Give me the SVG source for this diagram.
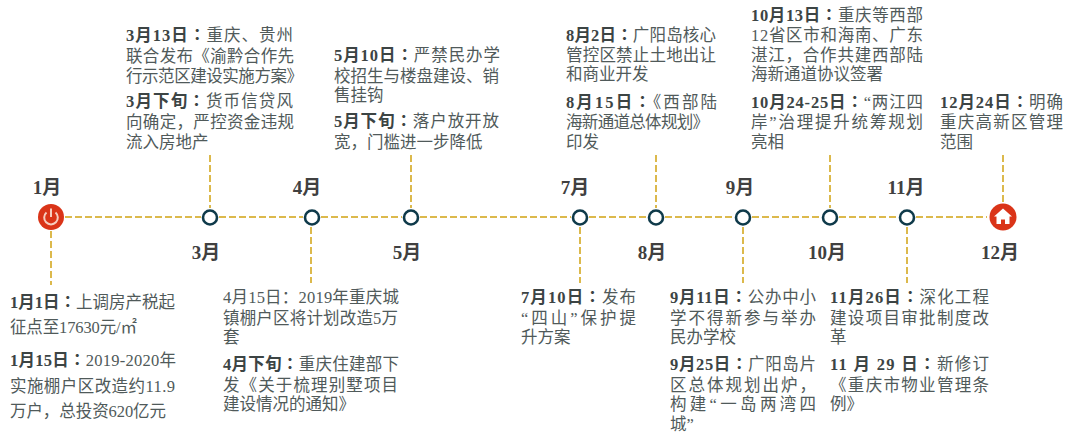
<svg xmlns="http://www.w3.org/2000/svg" width="1080" height="442" viewBox="0 0 1080 442">
<style>
text{font-family:"Liberation Serif","Noto Sans CJK SC",sans-serif}
.t{font-size:16.5px;fill:#505a5a}
.b{font-weight:700;fill:#3c4444}
.c{font-family:"Noto Sans CJK TC",sans-serif;font-weight:700;fill:#3c4444}
.m{font-size:19px;font-weight:700;fill:#404040;text-anchor:middle}
.l{fill:none;stroke:#dcb94c;stroke-width:2;stroke-dasharray:7 3}
.n{fill:#fff;stroke:#0f3a4a;stroke-width:2.6}
.r{fill:#da3418}
</style>
<rect width="1080" height="442" fill="#fff"/>
<g id="connectors">
<path class="l" d="M65 217H201M219 217H303M321 217H402M420 217H571M589 217H647M665 217H734M752 217H821M839 217H898M916 217H987"/>
<path class="l" d="M51 231V285M210 155V208M311 227V283M411 155V208M580 227V283M656 155V208M743 227V283M830 155V208M907 227V283M1003 155V204"/>
</g>
<g id="node-jan">
<circle class="r" cx="51" cy="217" r="13"/>
<path d="M46.5 212.5A6.8 6.8 0 1 0 55.5 212.5M51 208.5V217" fill="none" stroke="#f6cdbf" stroke-width="2"/>
<text class="m" x="47" y="194">1月</text>
<text class="t" x="10" y="308" textLength="165"><tspan class="b">1月1日</tspan><tspan class="c">：</tspan>上调房产税起</text>
<text class="t" x="10" y="333" textLength="127">征点至17630元/㎡</text>
<text class="t" x="10" y="366" textLength="166"><tspan class="b">1月15日</tspan><tspan class="c">：</tspan>2019-2020年</text>
<text class="t" x="10" y="392" textLength="165">实施棚户区改造约11.9</text>
<text class="t" x="10" y="417" textLength="156">万户，总投资620亿元</text>
</g>
<g id="node-mar">
<circle class="n" cx="210" cy="217.5" r="7"/>
<text class="m" x="206" y="259">3月</text>
<text class="t" x="126" y="41" textLength="167"><tspan class="b">3月13日</tspan><tspan class="c">：</tspan>重庆、贵州</text>
<text class="t" x="126" y="62" textLength="168">联合发布《渝黔合作先</text>
<text class="t" x="126" y="82" textLength="177">行示范区建设实施方案》</text>
<text class="t" x="126" y="107" textLength="167"><tspan class="b">3月下旬</tspan><tspan class="c">：</tspan>货币信贷风</text>
<text class="t" x="126" y="128" textLength="168">向确定，严控资金违规</text>
<text class="t" x="126" y="148">流入房地产</text>
</g>
<g id="node-apr">
<circle class="n" cx="312" cy="217.5" r="7"/>
<text class="m" x="307" y="194">4月</text>
<text class="t" x="223" y="303" textLength="176">4月15日：2019年重庆城</text>
<text class="t" x="223" y="324" textLength="175">镇棚户区将计划改造5万</text>
<text class="t" x="223" y="343">套</text>
<text class="t" x="223" y="370" textLength="176"><tspan class="b">4月下旬</tspan><tspan class="c">：</tspan>重庆住建部下</text>
<text class="t" x="223" y="391" textLength="175">发《关于梳理别墅项目</text>
<text class="t" x="223" y="410">建设情况的通知》</text>
</g>
<g id="node-may">
<circle class="n" cx="411" cy="217.5" r="7"/>
<text class="m" x="407" y="259">5月</text>
<text class="t" x="334" y="61" textLength="166"><tspan class="b">5月10日</tspan><tspan class="c">：</tspan>严禁民办学</text>
<text class="t" x="334" y="82" textLength="165">校招生与楼盘建设、销</text>
<text class="t" x="334" y="101">售挂钩</text>
<text class="t" x="334" y="127" textLength="165"><tspan class="b">5月下旬</tspan><tspan class="c">：</tspan>落户放开放</text>
<text class="t" x="334" y="148">宽，门槛进一步降低</text>
</g>
<g id="node-jul">
<circle class="n" cx="580" cy="217.5" r="7"/>
<text class="m" x="575" y="194">7月</text>
<text class="t" x="521" y="303" textLength="115"><tspan class="b">7月10日</tspan><tspan class="c">：</tspan>发布</text>
<text class="t" x="521" y="324" textLength="115">“四山”保护提</text>
<text class="t" x="521" y="343">升方案</text>
</g>
<g id="node-aug">
<circle class="n" cx="656" cy="217.5" r="7"/>
<text class="m" x="652" y="259">8月</text>
<text class="t" x="566" y="41" textLength="150"><tspan class="b">8月2日</tspan><tspan class="c">：</tspan>广阳岛核心</text>
<text class="t" x="566" y="61" textLength="150">管控区禁止土地出让</text>
<text class="t" x="566" y="80">和商业开发</text>
<text class="t" x="566" y="108" textLength="151"><tspan class="b">8月15日</tspan><tspan class="c">：</tspan>《西部陆</text>
<text class="t" x="566" y="128" textLength="143">海新通道总体规划》</text>
<text class="t" x="566" y="148">印发</text>
</g>
<g id="node-sep">
<circle class="n" cx="743" cy="217.5" r="7"/>
<text class="m" x="740" y="194">9月</text>
<text class="t" x="670" y="303" textLength="146"><tspan class="b">9月11日</tspan><tspan class="c">：</tspan>公办中小</text>
<text class="t" x="670" y="324" textLength="146">学不得新参与举办</text>
<text class="t" x="670" y="343">民办学校</text>
<text class="t" x="670" y="370" textLength="146"><tspan class="b">9月25日</tspan><tspan class="c">：</tspan>广阳岛片</text>
<text class="t" x="670" y="391" textLength="146">区总体规划出炉，</text>
<text class="t" x="670" y="410" textLength="146">构建“一岛两湾四</text>
<text class="t" x="670" y="430">城”</text>
</g>
<g id="node-oct">
<circle class="n" cx="830" cy="217.5" r="7"/>
<text class="m" x="827" y="259">10月</text>
<text class="t" x="751" y="21" textLength="172"><tspan class="b">10月13日</tspan><tspan class="c">：</tspan>重庆等西部</text>
<text class="t" x="751" y="41" textLength="172">12省区市和海南、广东</text>
<text class="t" x="751" y="61" textLength="172">湛江，合作共建西部陆</text>
<text class="t" x="751" y="80">海新通道协议签署</text>
<text class="t" x="751" y="108" textLength="172"><tspan class="b">10月24-25日</tspan><tspan class="c">：</tspan>“两江四</text>
<text class="t" x="751" y="128" textLength="172">岸”治理提升统筹规划</text>
<text class="t" x="751" y="148">亮相</text>
</g>
<g id="node-nov">
<circle class="n" cx="907" cy="217.5" r="7"/>
<text class="m" x="906" y="194">11月</text>
<text class="t" x="830" y="303" textLength="159"><tspan class="b">11月26日</tspan><tspan class="c">：</tspan>深化工程</text>
<text class="t" x="830" y="324" textLength="159">建设项目审批制度改</text>
<text class="t" x="830" y="343">革</text>
<text class="t" x="830" y="370" textLength="159"><tspan class="b">11 月 29 日</tspan><tspan class="c">：</tspan>新修订</text>
<text class="t" x="830" y="391" textLength="159">《重庆市物业管理条</text>
<text class="t" x="830" y="410">例》</text>
</g>
<g id="node-dec">
<circle class="r" cx="1003" cy="217" r="13.5"/>
<path d="M1003 208.5L1012 216.5H1009.5V224H1005V219.5H1001V224H996.500V216.500H994Z" fill="#fff"/>
<text class="m" x="1000" y="259">12月</text>
<text class="t" x="940" y="108" textLength="123"><tspan class="b">12月24日</tspan><tspan class="c">：</tspan>明确</text>
<text class="t" x="940" y="128" textLength="123">重庆高新区管理</text>
<text class="t" x="940" y="148">范围</text>
</g>
</svg>
